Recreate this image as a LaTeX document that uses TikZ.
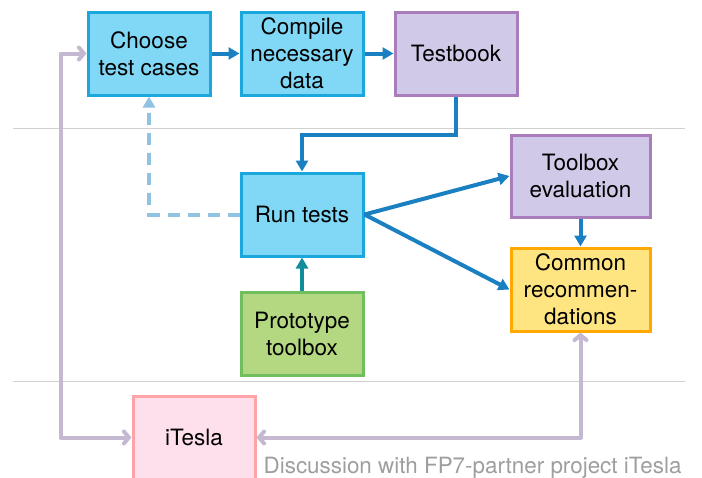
\documentclass[tikz,border=0pt]{standalone}
\usepackage{fontspec}
\setmainfont{TeX Gyre Heros}
\usetikzlibrary{arrows.meta, positioning}
\definecolor{boxblue}{HTML}{80D8F6}
\definecolor{edgeblue}{HTML}{1AA8DC}
\definecolor{boxpurple}{HTML}{D0C9E8}
\definecolor{edgepurple}{HTML}{A97DBC}
\definecolor{boxyellow}{HTML}{FFE582}
\definecolor{edgeyellow}{HTML}{FFA800}
\definecolor{boxgreen}{HTML}{B3D881}
\definecolor{edgegreen}{HTML}{70BE5E}
\definecolor{boxpink}{HTML}{FDE0EB}
\definecolor{edgepink}{HTML}{FCA4A8}
\definecolor{flowblue}{HTML}{1A80C2}
\definecolor{flowteal}{HTML}{108C9A}
\definecolor{dashblue}{HTML}{92C2E2}
\definecolor{linkgrey}{HTML}{C4B9D1}

\begin{document}
\begin{tikzpicture}[x=1pt, y=-1pt,
        node distance=28pt,
        box/.style={rectangle, draw, line width=3pt, minimum width=122pt, minimum height=83pt, align=center, inner sep=2pt, font=\fontsize{22.5}{27}\selectfont},
        bluebox/.style={box, draw=edgeblue, fill=boxblue},
        purplebox/.style={box, draw=edgepurple, fill=boxpurple},
        yellowbox/.style={box, draw=edgeyellow, fill=boxyellow, minimum width=139pt},
        greenbox/.style={box, draw=edgegreen, fill=boxgreen},
        pinkbox/.style={box, draw=edgepink, fill=boxpink},
        arrow/.style={-{Triangle[length=11pt, width=12pt]}, line width=4pt, flowblue},
        dashedarrow/.style={-{Triangle[length=11pt, width=12pt]}, line width=4pt, dashblue, dash pattern=on 12pt off 8pt},
        linkarrow/.style={{Straight Barb[length=5pt, width=12pt, line cap=round]}-{Straight Barb[length=5pt, width=12pt, line cap=round]}, line width=4pt, linkgrey, line cap=round, line join=round},
        sepline/.style={draw=black!18, line width=1pt}
    ]
        \clip (0,0) rectangle (702,477);

        % Section lines
        \draw[sepline] (13,128) -- (685,128);
        \draw[sepline] (13,381) -- (685,381);

        % Top row
        \node[bluebox] (choose) at (149,53.5) {Choose\\test cases};
        \node[bluebox, right=of choose] (compile) {Compile\\necessary\\data};
        \node[purplebox, right=29pt of compile] (testbook) {Testbook};

        % Middle
        \node[bluebox, below=75pt of compile] (run) {Run tests};
        \node[greenbox, below=33pt of run] (proto) {Prototype\\toolbox};
        \node[purplebox, minimum width=139pt, minimum height=82pt] (toolbox) at (580.5,176) {Toolbox\\evaluation};
        \node[yellowbox, below=of toolbox] (common) {Common\\recommen-\\dations};

        % Partner project
        \node[pinkbox] (itesla) at (194,437.5) {iTesla};
        \node[anchor=base east, text=black!38, font=\fontsize{22.4}{26}\selectfont] (note) at (685,473) {Discussion with FP7-partner project iTesla};

        % Main flow
        \draw[arrow] (choose) -- (compile);
        \draw[arrow] (compile) -- (testbook);
        \draw[arrow] (testbook.south) -- ++(0,38) -| (run.north);
        \draw[arrow] (run.east) -- (toolbox.west);
        \draw[arrow] (run.east) -- (common.west);
        \draw[arrow] (toolbox) -- (common);
        \draw[arrow, flowteal] (proto) -- (run);
        \draw[dashedarrow] (run.west) -| (choose.south);

        % Links to iTesla
        \draw[linkarrow] (itesla.west) -- ++(-71,0) |- (choose.west);
        \draw[linkarrow] (itesla.east) -| (common.south);

    \end{tikzpicture}
\end{document}
